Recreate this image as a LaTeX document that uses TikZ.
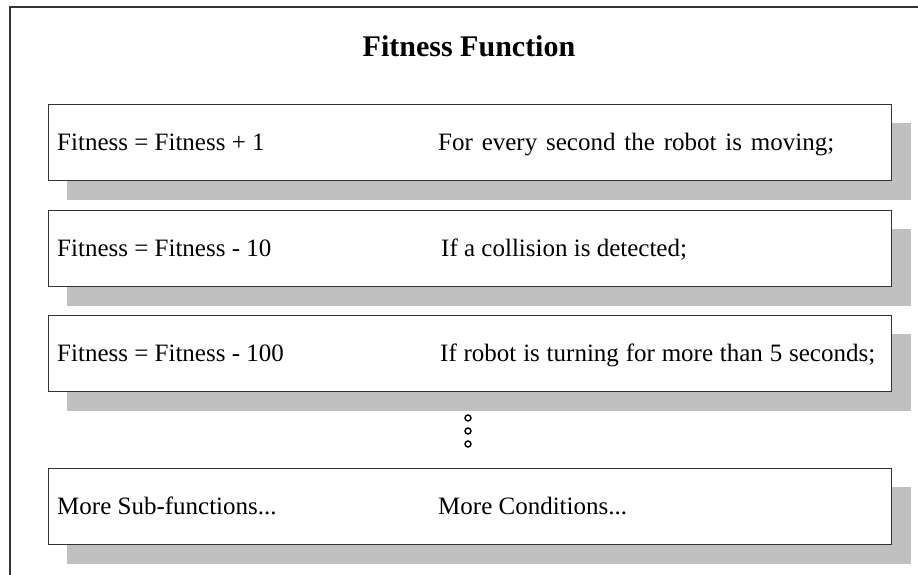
\documentclass[tikz,border=0pt]{standalone}
\usepackage{fontspec}
\setmainfont{Liberation Serif}
\usetikzlibrary{calc}
\definecolor{shadowgray}{HTML}{C0C0C0}
\definecolor{edgegray}{HTML}{333333}
\tikzset{
  frame/.style={draw=edgegray, line width=1.2pt},
  rulebox/.style={draw=edgegray, line width=1.3pt, fill=white,
    minimum width=843pt, minimum height=76pt, inner sep=0pt, anchor=north west},
  cell/.style={anchor=base west, inner sep=0pt, font=\fontsize{25}{30}\selectfont},
  dotmark/.style={draw=black, line width=1.4pt},
}
\newcommand{\ruleshadow}[1]{%
  \fill[shadowgray] ($(#1.south west)+(19pt,-19pt)$) rectangle ($(#1.north east)+(19pt,-19pt)$);}
% a line of text spread out to a given width
\newcommand{\spreadto}[2]{\makebox[#1][s]{#2}}
\begin{document}
\begin{tikzpicture}[x=1pt,y=-1pt]
  \useasboundingbox (0,0) rectangle (918,575);
  \begin{scope}
    \clip (0,0) rectangle (918,575);
    % outer frame, running past the right and bottom edges
    \draw[frame] (10,7) rectangle (940,600);
  \end{scope}

  \node[font=\bfseries\fontsize{30}{36}\selectfont, inner sep=0pt] (title) at (469,46) {Fitness Function};

  % rule boxes with their offset shadows
  \path (48,104) coordinate (p1) (48,210) coordinate (p2) (48,315) coordinate (p3) (48,468) coordinate (p4);
  \foreach \i in {1,2,3,4} {
    \path (p\i) node[rulebox, draw=none, fill=none] (s\i) {};
    \ruleshadow{s\i}
    \node[rulebox] (b\i) at (p\i) {};
  }

  \node[cell] (f1) at ($(b1.north west)+(9pt,-46pt)$) {Fitness = Fitness + 1};
  \node[cell] (c1) at ($(b1.north west)+(390pt,-46pt)$) {\spreadto{396pt}{For every second the robot is moving;}};
  \node[cell] (f2) at ($(b2.north west)+(9pt,-46pt)$) {Fitness = Fitness - 10};
  \node[cell] (c2) at ($(b2.north west)+(393pt,-46pt)$) {If a collision is detected;};
  \node[cell] (f3) at ($(b3.north west)+(9pt,-46pt)$) {Fitness = Fitness - 100};
  \node[cell] (c3) at ($(b3.north west)+(392pt,-46pt)$) {\spreadto{435pt}{If robot is turning for more than 5 seconds;}};
  \node[cell] (f4) at ($(b4.north west)+(9pt,-46pt)$) {More Sub-functions...};
  \node[cell] (c4) at ($(b4.north west)+(390pt,-46pt)$) {More Conditions...};

  % continuation marks
  \foreach \y in {418,431,444}
    \draw[dotmark] (468,\y) circle (3);
\end{tikzpicture}
\end{document}
